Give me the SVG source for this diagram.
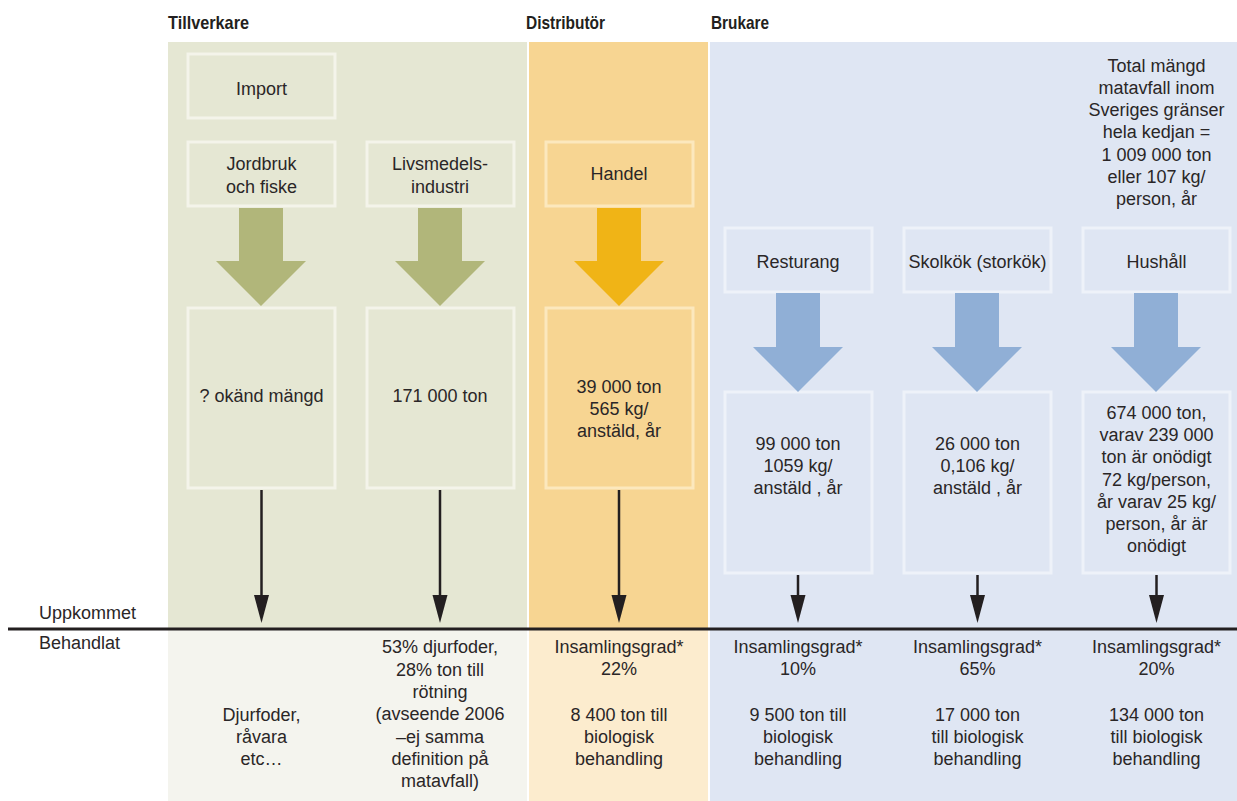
<svg xmlns="http://www.w3.org/2000/svg" width="1237" height="801" viewBox="0 0 1237 801">
<style>
text{font-family:"Liberation Sans",Arial,sans-serif;font-size:18px;fill:#2a2627;text-anchor:middle}
.hd{font-weight:bold;font-size:19px;text-anchor:start;fill:#231f20}
.lb{text-anchor:start}
.bg{stroke:#f4f4ea;stroke-width:3}
.bo{stroke:#fce8bd;stroke-width:3}
.bb{stroke:#eef2f9;stroke-width:3}
.ag{fill:#b1b67a}
.ao{fill:#f0b416}
.ab{fill:#90afd6}
.ln{stroke:#231f20;stroke-width:2.5;fill:none}
.hd2{fill:#231f20}
</style>
<rect width="1237" height="801" fill="#ffffff"/>
<g id="panels">
<rect x="168" y="42" width="359" height="586" fill="#e5e7d3"/>
<rect x="529" y="42" width="179" height="586" fill="#f7d592"/>
<rect x="710" y="42" width="527" height="586" fill="#dfe6f3"/>
<rect x="168" y="630" width="359" height="171" fill="#f4f4ee"/>
<rect x="529" y="630" width="179" height="171" fill="#fcecce"/>
<rect x="710" y="630" width="527" height="171" fill="#dfe6f3"/>
</g>
<g id="headers">
<text class="hd" x="168" y="29" textLength="81" lengthAdjust="spacingAndGlyphs">Tillverkare</text>
<text class="hd" x="526" y="29" textLength="79" lengthAdjust="spacingAndGlyphs">Distributör</text>
<text class="hd" x="711" y="29" textLength="58" lengthAdjust="spacingAndGlyphs">Brukare</text>
</g>
<g id="import"><rect class="bg" x="188" y="54" width="147" height="64" fill="none"/><text x="261.5" y="95">Import</text></g>
<g id="jordbruk"><rect class="bg" x="188" y="142" width="147" height="64" fill="none"/><text x="261.5" y="170">Jordbruk</text><text x="261.5" y="193">och fiske</text></g>
<g id="livsmedel"><rect class="bg" x="367" y="142" width="147" height="64" fill="none"/><text x="440" y="170">Livsmedels-</text><text x="440" y="193">industri</text></g>
<g id="handel"><rect class="bo" x="546" y="142" width="147" height="64" fill="none"/><text x="619" y="180">Handel</text></g>
<g id="resturang"><rect class="bb" x="725" y="228" width="147" height="64" fill="none"/><text x="798" y="268">Resturang</text></g>
<g id="skolkok"><rect class="bb" x="904" y="228" width="147" height="64" fill="none"/><text x="977.5" y="268">Skolkök (storkök)</text></g>
<g id="hushall"><rect class="bb" x="1083" y="228" width="147" height="64" fill="none"/><text x="1156.5" y="268">Hushåll</text></g>
<g id="total">
<text x="1156.5" y="72">Total mängd</text>
<text x="1156.5" y="94">matavfall inom</text>
<text x="1156.5" y="116">Sveriges gränser</text>
<text x="1156.5" y="138">hela kedjan =</text>
<text x="1156.5" y="161">1 009 000 ton</text>
<text x="1156.5" y="183">eller 107 kg/</text>
<text x="1156.5" y="205">person, år</text>
</g>
<g id="jordbruk-amount"><rect class="bg" x="188" y="308" width="147" height="180" fill="none"/><text x="261.5" y="402">? okänd mängd</text></g>
<g id="livsmedel-amount"><rect class="bg" x="367" y="308" width="147" height="180" fill="none"/><text x="440" y="402">171 000 ton</text></g>
<g id="handel-amount"><rect class="bo" x="546" y="308" width="147" height="180" fill="none"/><text x="619" y="393">39 000 ton</text><text x="619" y="415">565 kg/</text><text x="619" y="437">anstäld, år</text></g>
<g id="resturang-amount"><rect class="bb" x="725" y="392" width="147" height="181" fill="none"/><text x="798" y="450">99 000 ton</text><text x="798" y="472">1059 kg/</text><text x="798" y="494">anstäld , år</text></g>
<g id="skolkok-amount"><rect class="bb" x="904" y="392" width="147" height="181" fill="none"/><text x="977.5" y="450">26 000 ton</text><text x="977.5" y="472">0,106 kg/</text><text x="977.5" y="494">anstäld , år</text></g>
<g id="hushall-amount"><rect class="bb" x="1083" y="392" width="147" height="181" fill="none"/>
<text x="1156.5" y="419">674 000 ton,</text>
<text x="1156.5" y="441">varav 239 000</text>
<text x="1156.5" y="463">ton är onödigt</text>
<text x="1156.5" y="486">72 kg/person,</text>
<text x="1156.5" y="508">år varav 25 kg/</text>
<text x="1156.5" y="530">person, år är</text>
<text x="1156.5" y="552">onödigt</text>
</g>
<g id="connectors">
<polygon class="ag" points="239,208 283,208 283,261 306,261 261,306 216,261 239,261"/>
<polygon class="ag" points="418,208 462,208 462,261 485,261 440,306 395,261 418,261"/>
<polygon class="ao" points="597,208 641,208 641,261 664,261 619,306 574,261 597,261"/>
<polygon class="ab" points="776,293 820,293 820,347 843,347 798,392 753,347 776,347"/>
<polygon class="ab" points="955,293 999,293 999,347 1022,347 977,392 932,347 955,347"/>
<polygon class="ab" points="1134,293 1178,293 1178,347 1201,347 1156,392 1111,347 1134,347"/>
<line class="ln" x1="261.5" y1="490" x2="261.5" y2="598"/><polygon class="hd2" points="254,595 269,595 261.5,623"/>
<line class="ln" x1="440" y1="490" x2="440" y2="598"/><polygon class="hd2" points="432.5,595 447.5,595 440,623"/>
<line class="ln" x1="619" y1="490" x2="619" y2="598"/><polygon class="hd2" points="611.5,595 626.5,595 619,623"/>
<line class="ln" x1="798" y1="575" x2="798" y2="598"/><polygon class="hd2" points="790.5,595 805.5,595 798,623"/>
<line class="ln" x1="977.5" y1="575" x2="977.5" y2="598"/><polygon class="hd2" points="970,595 985,595 977.5,623"/>
<line class="ln" x1="1156.5" y1="575" x2="1156.5" y2="598"/><polygon class="hd2" points="1149,595 1164,595 1156.5,623"/>
<line x1="8" y1="629" x2="1237" y2="629" stroke="#231f20" stroke-width="3"/>
</g>
<g id="labels">
<text class="lb" x="39" y="619">Uppkommet</text>
<text class="lb" x="39" y="649">Behandlat</text>
</g>
<g id="treated-jordbruk">
<text x="261.5" y="721">Djurfoder,</text>
<text x="261.5" y="743">råvara</text>
<text x="261.5" y="765">etc…</text>
</g>
<g id="treated-livsmedel">
<text x="440" y="653">53% djurfoder,</text>
<text x="440" y="676">28% ton till</text>
<text x="440" y="698">rötning</text>
<text x="440" y="720">(avseende 2006</text>
<text x="440" y="743">–ej samma</text>
<text x="440" y="765">definition på</text>
<text x="440" y="787">matavfall)</text>
</g>
<g id="treated-handel">
<text x="619" y="653">Insamlingsgrad*</text>
<text x="619" y="675">22%</text>
<text x="619" y="721">8 400 ton till</text>
<text x="619" y="743">biologisk</text>
<text x="619" y="765">behandling</text>
</g>
<g id="treated-resturang">
<text x="798" y="653">Insamlingsgrad*</text>
<text x="798" y="675">10%</text>
<text x="798" y="721">9 500 ton till</text>
<text x="798" y="743">biologisk</text>
<text x="798" y="765">behandling</text>
</g>
<g id="treated-skolkok">
<text x="977.5" y="653">Insamlingsgrad*</text>
<text x="977.5" y="675">65%</text>
<text x="977.5" y="721">17 000 ton</text>
<text x="977.5" y="743">till biologisk</text>
<text x="977.5" y="765">behandling</text>
</g>
<g id="treated-hushall">
<text x="1156.5" y="653">Insamlingsgrad*</text>
<text x="1156.5" y="675">20%</text>
<text x="1156.5" y="721">134 000 ton</text>
<text x="1156.5" y="743">till biologisk</text>
<text x="1156.5" y="765">behandling</text>
</g>
</svg>
